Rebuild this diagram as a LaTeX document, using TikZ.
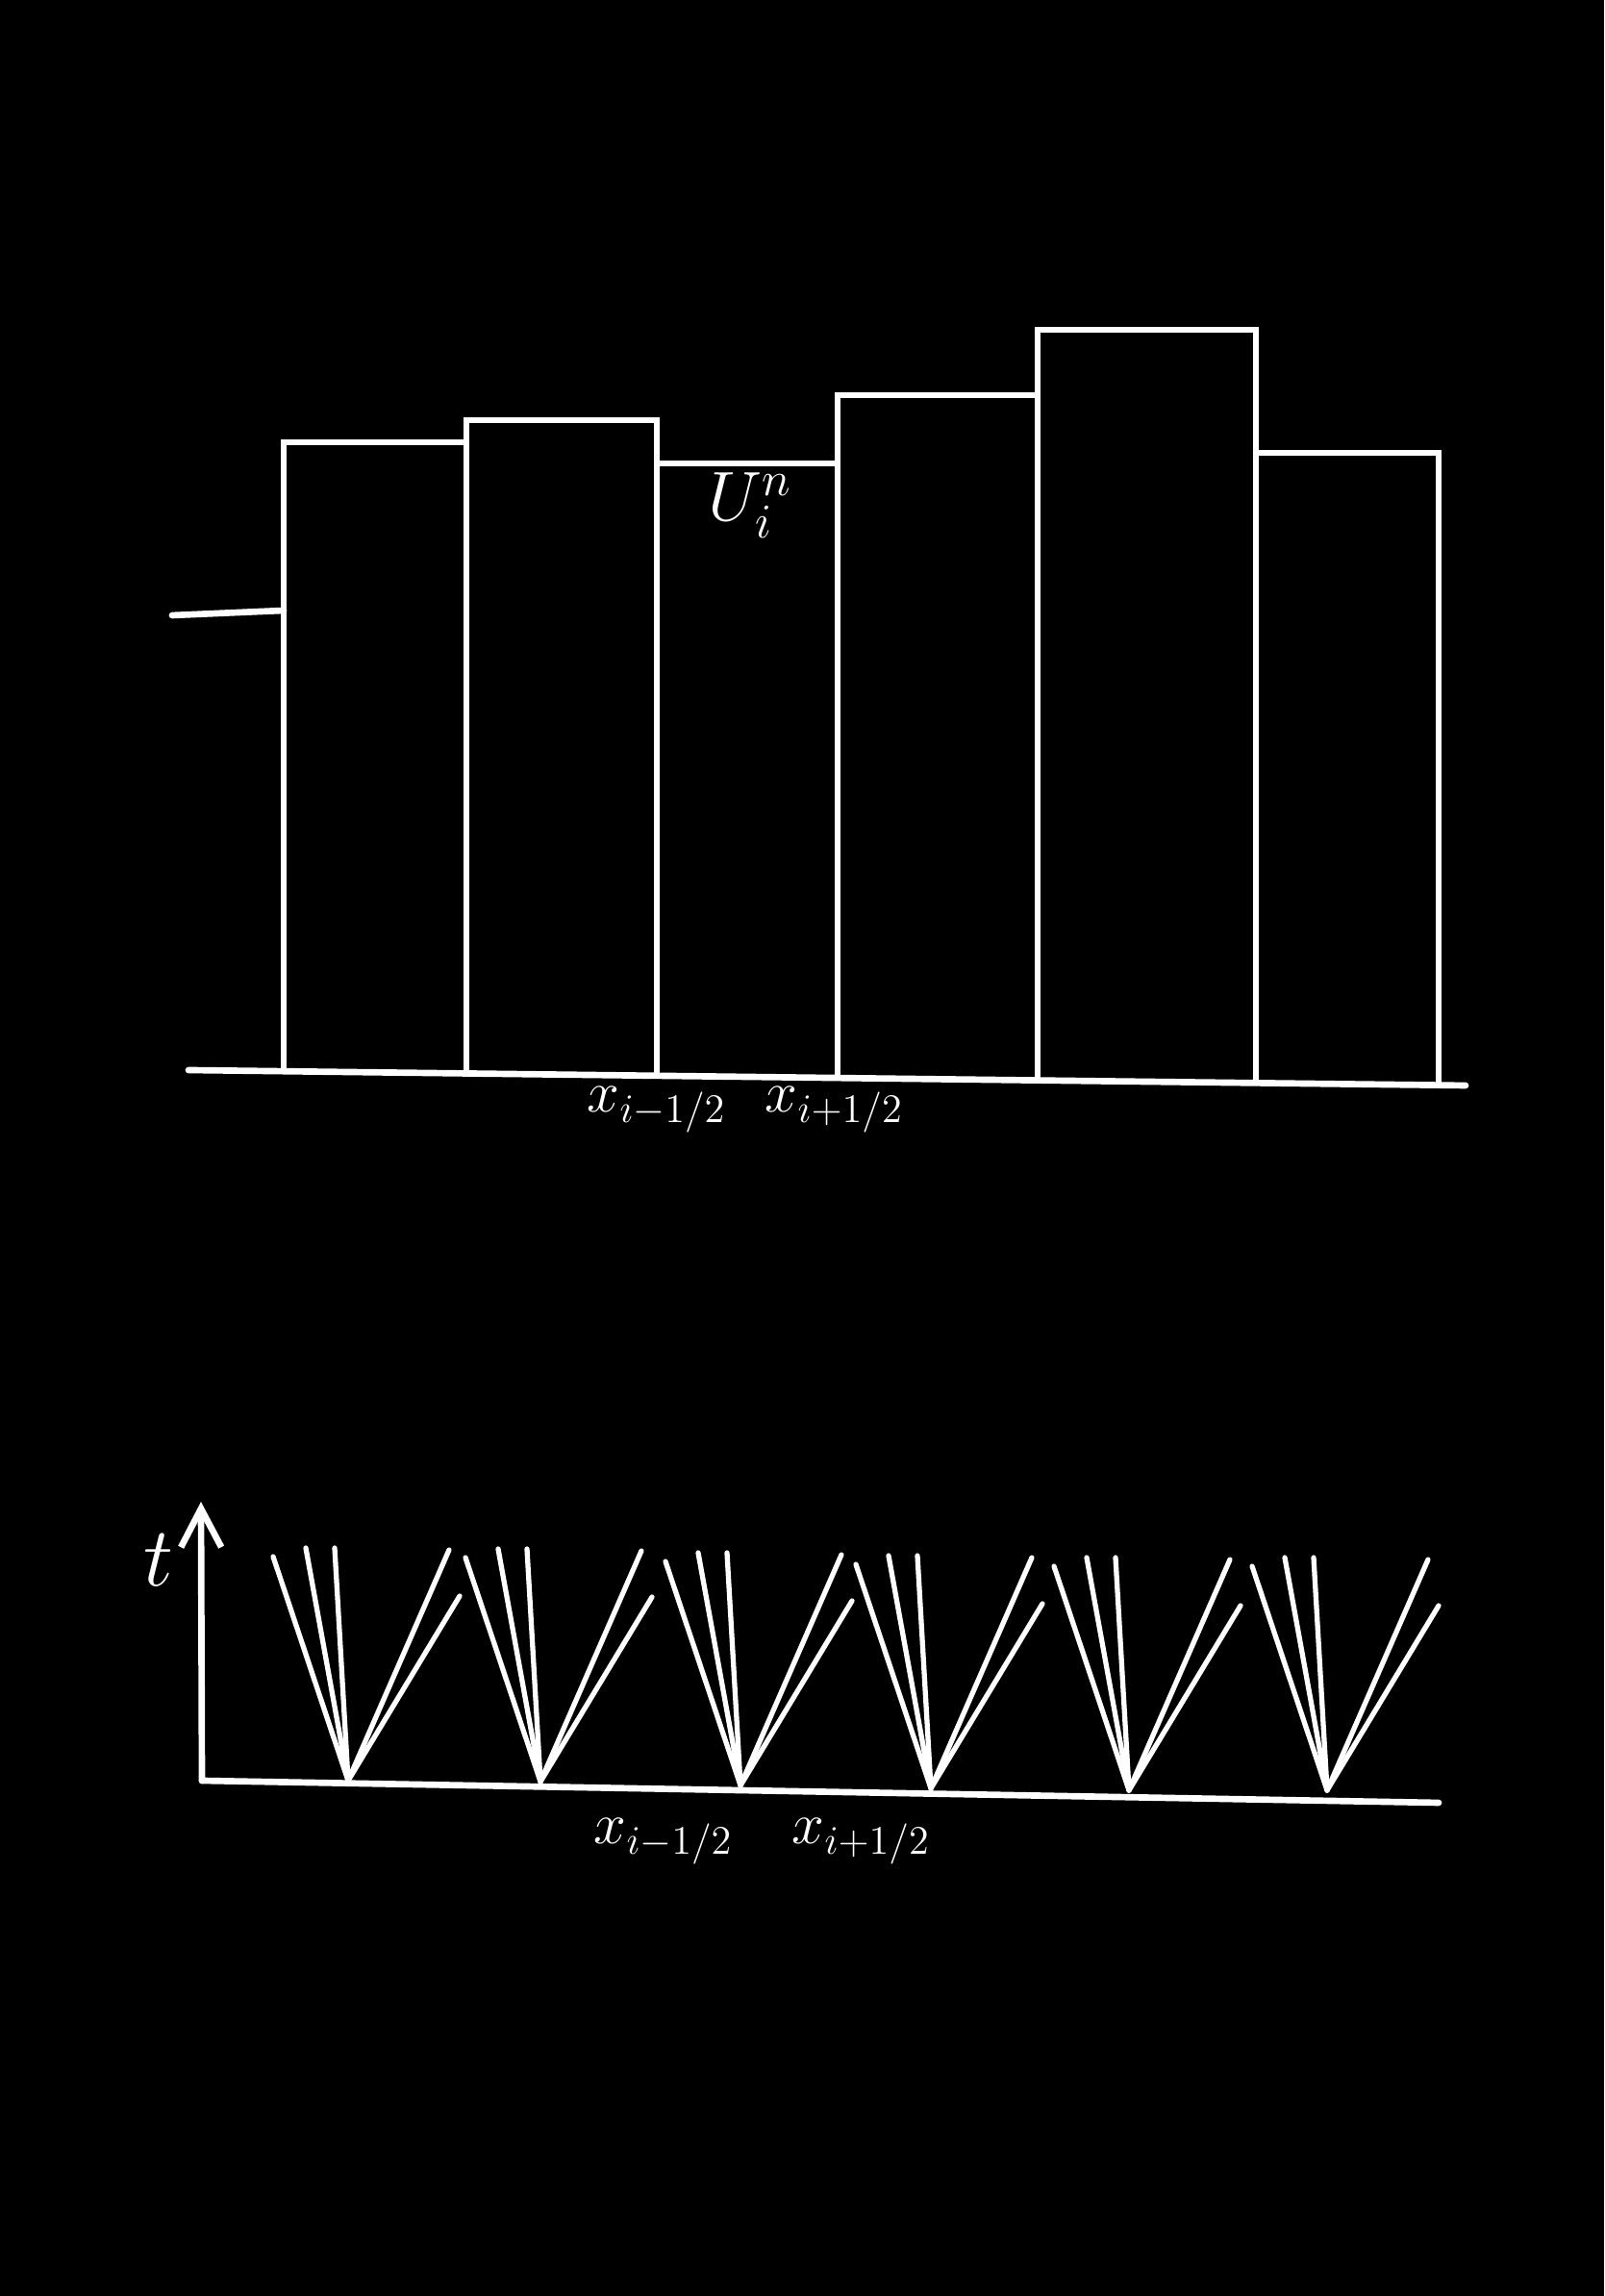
\documentclass[tikz,border=0pt]{standalone}
\usetikzlibrary{arrows.meta}
\tikzset{
	bar/.style = {white, line width = 1.85pt},
	fan/.style = {white, line width = 1.5pt, line cap = round},
	axis/.style = {white, line width = 1.9pt, line cap = round},
	lab/.style = {white, inner sep = 0pt, anchor = base west, font = \fontsize{16.6}{20}\selectfont}
}
\begin{document}
\begin{tikzpicture}
	\fill [black] (0,0) rectangle (16.68,23.88);
	% cells with the averages
	\draw [axis] (1.96,12.75) -- (15.24,12.59);
	\draw [axis] (1.79,17.48) -- (2.95,17.53);
	\foreach \xa/\xb/\h/\yb in {2.95/4.85/19.28/12.73, 4.85/6.83/19.51/12.70, 6.83/8.71/19.06/12.68, 8.71/10.79/19.77/12.66, 10.79/13.06/20.45/12.63, 13.06/14.96/19.17/12.60}
		\draw [bar] (\xa,\yb) -- (\xa,\h) -- (\xb,\h) -- (\xb,\yb);
	\node [lab, font = \fontsize{19.5}{22}\selectfont] (u) at (7.36,18.46) {$U_i^n$};
	\node [lab] (xl) at (6.10,12.31) {$x_{i-1/2}$};
	\node [lab] (xr) at (7.95,12.31) {$x_{i+1/2}$};
	% fans at the interfaces
	\coordinate (o) at (2.10,5.36);
	\coordinate (tt) at (2.09,8.26);
	\coordinate (e) at (14.96,5.13);
	\draw [axis, -{Straight Barb[length=4mm,width=4.2mm]}] (o) -- (tt);
	\draw [axis] (o) -- (e);
	\foreach \x/\y [count=\i] in {3.62/5.36, 5.62/5.35, 7.70/5.31, 9.68/5.28, 11.74/5.26, 13.80/5.26} {
		\coordinate (f\i) at (\x,\y);
		\foreach \dx/\dy in {-0.78/2.33, -0.44/2.42, -0.14/2.42, 1.05/2.40, 1.16/1.92}
			\draw [fan] (f\i) -- ++(\dx,\dy);
	}
	\node [white, font = \fontsize{32}{36}\selectfont] (t) at (1.65,7.65) {$t$};
	\node [lab] (yl) at (6.17,4.70) {$x_{i-1/2}$};
	\node [lab] (yr) at (8.23,4.70) {$x_{i+1/2}$};
\end{tikzpicture}
\end{document}
